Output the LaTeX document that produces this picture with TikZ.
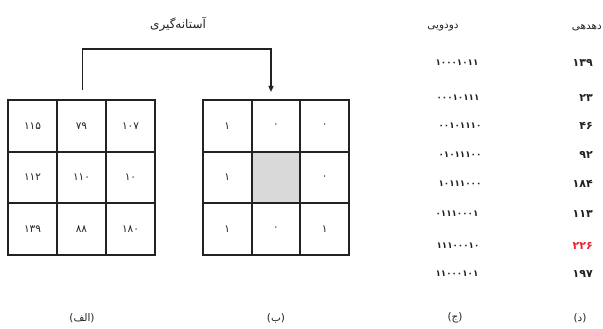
\documentclass[tikz,border=0pt]{standalone}
\usepackage{fontspec}
\TeXXeTstate=1
\newfontfamily\fa[Script=Arabic]{DejaVu Sans}
\usetikzlibrary{arrows.meta}
\definecolor{inkgray}{HTML}{222222}
\definecolor{cellgray}{HTML}{D9D9D9}
\definecolor{hired}{HTML}{F0202E}
\tikzset{
  cellA/.style={draw=inkgray, line width=2pt, minimum width=49pt, minimum height=51.7pt,
                inner sep=0pt, font=\fa\fontsize{10.5}{12}\selectfont, text=inkgray},
  cellB/.style={cellA, minimum width=48.7pt},
  bincol/.style={font=\fa\bfseries\fontsize{8.8}{10}\selectfont, text=inkgray, inner sep=0pt},
  deccol/.style={font=\fa\bfseries\fontsize{11}{12}\selectfont, text=inkgray, inner sep=0pt, anchor=east},
  headtxt/.style={font=\fa\fontsize{10.5}{12}\selectfont, text=inkgray, inner sep=0pt},
  flow/.style={draw=inkgray, line width=1.4pt, -{Triangle[length=6pt,width=5pt]}}
}
\begin{document}
\begin{tikzpicture}[x=1pt,y=-1pt]
\useasboundingbox (0,0) rectangle (603,329);

% input grid (grey levels)
\node[cellA] (a11) at (32.5,125.8) {۱۱۵};
\node[cellA] (a12) at (81.5,125.8) {۷۹};
\node[cellA] (a13) at (130.5,125.8) {۱۰۷};
\node[cellA] (a21) at (32.5,177.5) {۱۱۲};
\node[cellA] (a22) at (81.5,177.5) {۱۱۰};
\node[cellA] (a23) at (130.5,177.5) {۱۰};
\node[cellA] (a31) at (32.5,229.2) {۱۳۹};
\node[cellA] (a32) at (81.5,229.2) {۸۸};
\node[cellA] (a33) at (130.5,229.2) {۱۸۰};

% thresholded grid
\node[cellB] (b11) at (227.3,125.8) {۱};
\node[cellB] (b12) at (276,125.8) {۰};
\node[cellB] (b13) at (324.7,125.8) {۰};
\node[cellB] (b21) at (227.3,177.5) {۱};
\node[cellB, fill=cellgray] (b22) at (276,177.5) {};
\node[cellB] (b23) at (324.7,177.5) {۰};
\node[cellB] (b31) at (227.3,229.2) {۱};
\node[cellB] (b32) at (276,229.2) {۰};
\node[cellB] (b33) at (324.7,229.2) {۱};

% thresholding connector
\coordinate (up) at (82.5,49);
\draw[flow] ([xshift=1pt,yshift=9pt]a12.north) -- (up) -| ([xshift=-5pt,yshift=7pt]b12.north);
\node[headtxt, font=\fa\fontsize{12}{14}\selectfont] (title) at (178,24) {\beginR آستانه‌گیری\endR};

% binary / decimal columns
\node[headtxt] (hbin) at (443,28) {\beginR دودویی\endR};
\node[headtxt, anchor=east] (hdec) at (602,28) {\beginR دهدهی\endR};

\node[bincol] (n1) at (457,63) {۱۰۰۰۱۰۱۱};
\node[bincol] (n2) at (458,98) {۰۰۰۱۰۱۱۱};
\node[bincol] (n3) at (460,126) {۰۰۱۰۱۱۱۰};
\node[bincol] (n4) at (460,155) {۰۱۰۱۱۱۰۰};
\node[bincol] (n5) at (460,184) {۱۰۱۱۱۰۰۰};
\node[bincol] (n6) at (457,214) {۰۱۱۱۰۰۰۱};
\node[bincol] (n7) at (458,246) {۱۱۱۰۰۰۱۰};
\node[bincol] (n8) at (457,274) {۱۱۰۰۰۱۰۱};

\node[deccol] (d1) at (593,63) {۱۳۹};
\node[deccol] (d2) at (593,98) {۲۳};
\node[deccol] (d3) at (593,126) {۴۶};
\node[deccol] (d4) at (593,155) {۹۲};
\node[deccol] (d5) at (593,184) {۱۸۴};
\node[deccol] (d6) at (593,214) {۱۱۳};
\node[deccol, text=hired] (d7) at (593,246) {۲۲۶};
\node[deccol] (d8) at (593,274) {۱۹۷};

% panel captions
\node[headtxt] (capA) at (82,318) {\beginR(الف)\endR};
\node[headtxt] (capB) at (276,318) {\beginR(ب)\endR};
\node[headtxt] (capC) at (455,318) {\beginR(ج)\endR};
\node[headtxt] (capD) at (580,318) {\beginR(د)\endR};
\end{tikzpicture}
\end{document}
